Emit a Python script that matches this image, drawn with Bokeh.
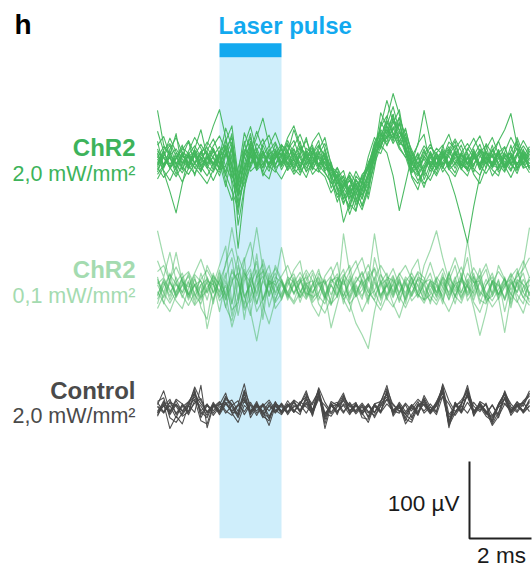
from bokeh.plotting import figure
from bokeh.models import Range1d, Label
from bokeh.embed import file_html
from bokeh.resources import INLINE

# Sweeps sampled every 0.2 ms from -2 ms (laser onset at 0 ms), values in µV
T_START = -2.0
DT = 0.2
PULSE_START, PULSE_END = 0.0, 2.0

chr2_high = [
    [8, -5, 12, -10, 6, -3, 10, -8, 4, -6, 12, 20, -30, -114, -40, 15, -6, 10, -4, 8, -2, 12, -6, 9, -10, 5, -8, 3, -15, -28, -35, -22, -40, -18, -10, 20, 35, 28, 42, 25, 15, -5, -12, 6, -8, 4, -10, 12, -4, 8, -6, 10, -12, 5, -3, 14, -8, 6, -5, 10, 2],
    [65, 20, 5, -12, 8, -6, 14, 2, -10, 6, 18, -8, -25, -55, 10, 30, -5, 12, -10, 4, 10, -6, 15, -4, 8, -12, 6, -5, -20, -35, -80, -55, -30, -45, -20, 5, 25, 40, 30, 48, 20, -10, -20, -5, 10, -6, 8, -4, 12, -10, 4, -8, 15, -5, 8, -12, 6, 10, -4, 5, -8],
    [10, -15, -40, -68, -30, 5, 12, -4, 20, 45, 66, 30, -10, -45, 5, 20, -8, 8, -5, 12, -6, 20, 5, -10, 12, 2, -6, 10, -10, -25, -45, -60, -35, -50, -25, 10, 45, 78, 50, 35, 30, 0, -15, -8, 5, -12, 6, -8, 10, -4, -12, 5, -6, 10, -4, 8, -10, 6, -6, 12, 4],
    [-8, 10, -5, 6, -12, 8, -3, 12, -6, 5, -10, 25, 45, -20, -10, 8, 30, 55, 20, -5, 6, 30, 45, 20, 5, -8, 12, -4, -12, -30, -20, -45, -25, -40, -15, 15, 30, 55, 87, 60, 25, 10, -10, 5, -6, 10, -5, 6, -10, 8, -5, 12, -6, 4, -8, 10, 18, -5, 8, -10, -6],
    [-12, 5, -8, 10, -4, 6, -10, 4, -6, 12, -5, 10, -20, -40, -15, 6, -8, 12, -6, 5, 15, -5, 10, -10, 6, -12, 5, -15, -30, -20, -50, -35, -55, -30, -10, 5, 20, 10, -20, -65, -30, 5, -15, -35, -10, 5, -8, -20, -45, -75, -107, -60, -20, 5, -8, 10, -6, 5, -10, 8, -4],
    [5, -8, 15, 30, 10, -6, 8, -12, 6, -4, 10, -15, 20, -35, 25, -10, 12, -6, 8, 15, -8, 10, 40, 15, -5, 8, 20, 5, -8, -15, -40, -25, -45, -20, -5, 20, 40, 30, 55, 40, 15, 5, 20, 65, 25, -5, 10, -8, 6, 20, -5, 8, -12, 10, 4, 25, 40, 61, 20, -5, 8],
    [-5, 12, -10, 4, 20, -8, 6, -15, 10, -6, 5, 15, -10, -30, 12, -4, 6, -10, 15, -5, 8, -12, 4, 25, -6, 10, -8, 15, -25, -10, -35, -50, -20, -30, 5, 30, 15, 45, 25, 50, 10, -15, 5, -20, 12, -5, 15, -10, 4, -6, 10, -15, 6, -4, 20, -8, 5, -12, 10, -6, 12],
    [15, -6, 4, -18, 5, 25, -5, 10, -4, 15, -12, 8, 35, -60, -25, 10, -12, 5, -6, 22, -4, 6, -15, 8, 30, -5, 10, -10, -5, -40, -25, -40, -65, -35, -20, 0, 35, 20, 35, 15, 5, -20, -30, -10, 8, -12, 5, 15, -6, 10, -12, 4, 8, -10, 15, -5, -15, 8, -6, 15, -10],
    [-15, 6, 20, -5, 10, -10, 15, 40, 5, -12, 8, -20, 15, -45, -5, 25, 5, -15, 10, -8, 20, 12, -10, 6, -15, 15, -5, 8, -20, -15, -30, -20, -35, -45, -30, 10, 20, 50, 35, 30, 40, 10, -5, 15, -10, 8, -6, 10, 25, -5, -12, 15, -8, 12, -6, -10, 10, -6, 30, 8, -12],
    [25, -10, 8, 35, -12, 10, -20, 6, 12, -8, -15, 10, -5, -25, 8, 35, -10, 20, 2, 10, -12, 4, 15, -8, 10, 20, -12, 3, -10, -20, -55, -40, -30, -60, -35, -5, 50, 35, 60, 20, 35, -5, 10, -25, -5, 10, 20, -5, 12, -12, 6, -5, 10, 20, -10, 5, -8, 20, -10, 6, 10],
    [-3, 14, 22, 6, -9, -18, -4, 11, 17, 3, -12, -7, 18, -38, -22, 4, 16, -2, -14, 9, 21, 7, -11, -19, 2, 13, -6, -16, -28, -44, -31, -19, -52, -27, -8, 24, 38, 19, 44, 31, 9, -16, -7, 12, -3, -17, 6, 18, 1, -11, -20, 3, 14, 7, -9, 2, 17, -5, -13, 8, 0],
    [12, 3, -9, -21, -6, 8, 19, 4, -7, -15, 2, 28, -5, -70, -12, 18, 3, -9, 12, 24, 5, -13, -2, 16, 9, -4, 18, 6, -36, -18, -42, -63, -24, -38, -2, 12, 29, 52, 36, 22, 18, -8, -26, -14, 3, 16, 7, -12, -4, 10, 22, 8, -6, -17, -3, 11, -2, -14, 6, 19, 7],
    [-18, -6, 7, 15, 2, -11, -3, 9, 24, 13, -4, 16, 30, -26, 6, -14, -6, 21, 33, 8, -7, 3, 19, 34, 12, -9, -15, -1, -21, -9, -26, -48, -40, -58, -32, -4, 18, 36, 60, 24, 42, 6, -14, -30, -19, 4, 12, -6, 15, 27, 9, -11, -19, 0, 13, 4, -9, 2, 16, 2, -7],
    [4, 18, 9, -5, -16, -2, 13, -8, -20, -4, 9, -28, -52, -22, 14, 9, -13, -3, 7, -10, -2, 14, 26, 3, -14, -5, 8, 22, -4, -34, -57, -36, -14, -30, -44, 8, 62, 44, 28, 56, 33, 14, -4, 8, 21, 4, -15, -3, 9, -6, 14, 29, 11, -4, 6, -15, -4, 12, 26, -3, -16],
    [-9, -22, -11, 3, 14, 26, 8, -6, 3, 19, 32, 12, -16, -46, -30, -4, 22, 10, -5, 2, 18, -3, -18, -7, 5, 17, 2, -10, -17, -48, -39, -70, -45, -22, -12, 14, 9, 32, 48, 66, 20, -22, -38, -10, -1, -9, 3, 24, 16, -5, -9, 6, 21, -3, -12, -20, 5, 9, -11, -2, 15],
    [2, -13, -26, -8, 11, 4, -9, -19, -30, -12, 5, 42, 18, -33, -8, 11, 38, 14, -7, -15, 3, 26, 9, -8, -22, 0, 14, 30, -6, -24, -36, -15, -29, -50, -20, 16, 44, 58, 34, 18, 4, 11, -8, 2, -14, -4, 10, -11, -21, -2, 16, 4, -8, 22, 8, -3, 11, 30, 14, -9, 3],
    [20, 31, 6, -4, 9, -7, -17, 2, 13, 28, 8, -18, -40, -62, -18, 22, 6, -16, -24, 4, 14, 2, -9, 11, 26, 6, -13, -21, -42, -28, -50, -32, -58, -40, -16, 2, 27, 40, 22, 36, 26, -2, -18, 4, 17, 9, -10, 7, 20, 3, -14, -6, 12, 3, -20, -8, 8, -3, -17, 5, 18],
    [-24, -8, 4, -12, -28, -10, 7, 21, 6, -2, -20, 6, 24, -18, 36, 14, -10, 6, 19, 36, 14, -9, 2, -16, -3, 24, 36, 15, -11, -22, -13, -42, -33, -22, -50, -10, 34, 24, 52, 40, 12, -12, 3, 19, 8, -6, 18, 34, 9, -7, 3, -18, -30, -9, 12, 25, 3, -6, 9, 26, 11],
    [38, 12, -10, 2, 17, 9, -4, -14, 1, 16, -2, -34, 8, -84, -36, -6, 13, 28, 4, -12, -24, -8, 6, 18, 2, -18, -8, 5, -24, -54, -32, -26, -48, -64, -38, 22, 16, 46, 70, 38, 28, -6, 8, -14, -26, -8, 6, -4, -16, 6, 2, 18, 32, 10, -6, 14, -7, -22, -4, 4, -10],
    [-6, 7, 29, 11, -3, 12, 30, 16, -9, -26, -8, 18, -22, -10, 20, 44, 12, -20, -4, 13, 7, 22, 0, -13, 16, 9, 26, -14, -2, -30, -20, -56, -66, -28, -6, 6, 22, 30, 40, 56, 10, -4, 22, 34, -8, -20, -2, 14, 28, 12, -3, 10, -4, 15, 30, 8, -13, 1, 22, 5, -4],
]

chr2_low = [
    [75, 40, 10, -8, 12, -15, 6, -10, 15, -5, 10, 30, 79, 35, -10, 5, -20, 10, -6, 15, 8, -12, 6, -10, 20, -5, 8, -15, 5, -10, 71, 20, -8, 12, -5, 15, -10, 5, -12, 8, -6, 15, -10, 5, 20, -8, 12, -15, 6, 10, -5, 15, -10, 5, 20, -8, 6, 12, -5, 30, 79],
    [36, 15, 47, 10, -12, 8, -20, 5, -52, -15, 10, -8, -50, -20, 15, 30, 79, 25, -10, 8, 53, 15, -8, 10, -12, 6, 15, -6, -51, -20, 10, -12, 8, 20, -5, -15, 10, -8, 15, -5, 12, -10, 6, -15, 10, 5, -10, 20, -10, 8, 62, 10, -15, -20, 8, -12, -57, -10, 12, 5, -8],
    [-10, 12, -5, 8, 20, -8, 5, -15, 10, 5, 30, 55, -20, 15, 40, -30, -68, -25, 10, -5, 12, -8, 15, -5, 8, -15, 6, 10, -8, 12, -10, 8, 25, 40, 10, 71, 20, -10, 5, -15, 8, -6, 12, -10, 8, -5, 15, -8, 10, -15, 6, 20, -8, 12, -6, 10, -15, 8, -5, 12, -6],
    [5, -12, 8, -5, 15, -10, 12, -6, 8, -15, 20, -10, 15, -35, 10, 25, -20, 12, 30, -8, 10, -15, 5, 12, -8, 20, -10, -20, 5, -12, 15, -20, -45, -60, -78, -30, 5, 12, -8, 10, -15, 5, 20, -6, 10, -12, 8, -5, 15, -10, 5, -25, -61, -30, 10, -8, 12, -15, 6, 20, -10],
    [-8, 10, -15, 6, -5, 20, -10, 5, 12, -20, 15, -25, 10, 20, -40, 12, 35, -15, 10, 5, -12, 8, -6, 15, -10, 5, 25, -8, 10, 15, -20, 12, -10, 5, 15, -10, 8, 20, -6, 12, -10, 15, -5, 30, 50, 75, 40, 10, -12, 15, -8, 10, -20, 5, 15, -10, 8, -25, 10, -5, 15],
    [12, -5, 20, -12, 5, -8, 15, -25, -40, 5, -10, 15, 40, -15, 25, -10, 45, -15, 5, 20, -10, 15, 8, -12, 6, 10, -15, 8, -20, 10, 25, -10, 15, 5, -20, 40, 10, -15, 12, -8, 15, 5, -12, 8, 12, -5, 20, -10, 5, -6, 20, 8, 10, -15, -10, 12, -30, 5, 15, 25, 40],
    [-20, 8, -10, 15, -6, 10, -15, 20, -5, 8, -30, 10, -20, 30, -10, -35, 15, -40, 20, -15, 8, -5, 12, -18, 5, -6, 10, -12, 15, -8, 12, -15, 5, -10, 10, 25, -15, 8, -10, 15, -20, 10, -8, -15, 5, -10, 15, 5, -20, 12, 40, -10, 8, -12, 10, -8, 15, -20, 8, -12, 5],
    [15, -20, 10, 47, 8, -12, 5, 10, -15, 15, 5, -15, 25, 10, -25, 20, -10, 25, 5, 10, -15, 12, -6, 8, 15, -12, -5, 12, -20, -10, 15, 30, -5, 10, -15, 8, -12, 15, 10, -18, 6, -10, 15, 10, -20, 12, -15, 10, 30, -5, 12, -15, 10, 25, -10, 6, -15, 10, -8, -20, 12],
    [-14, 3, 18, 6, -9, -22, -5, 12, 24, 8, -16, -4, 22, 9, -28, -12, 16, 32, 4, -18, -6, 10, 19, -3, -14, 2, 13, -9, -22, 4, 18, 7, -11, -2, 14, 27, 6, -13, -24, -6, 9, 20, 3, -15, -8, 12, 26, 5, -10, -19, 3, 16, -4, -13, 8, 22, 10, -7, -18, 2, 11],
    [9, -6, -19, -4, 14, 22, 3, -12, -2, 17, 6, -24, -42, -10, 20, 8, -30, -14, 12, 26, 9, -8, -20, -5, 11, 24, 5, -12, 7, 19, -4, -20, -9, 15, 31, 10, -8, 3, 17, -10, -25, -6, 13, 4, -11, -21, -3, 14, 2, -12, 9, 27, 12, -6, -16, -1, 13, -2, 18, 36, 14],
    [22, 30, 8, -10, 4, 16, -8, -20, 2, 11, -6, 34, 52, 18, -12, 6, 24, -22, -46, -15, 5, -10, 8, 21, 4, -18, -7, 16, 28, 2, -14, -4, 9, 22, 0, -16, -28, -9, 6, 18, 30, 12, -7, -19, -2, 15, 3, -14, 12, 28, 6, -18, -31, -8, 10, 4, -12, 15, 26, -6, -14],
    [-4, -18, -30, -9, 8, 2, 20, 38, 14, -6, 24, -14, 6, 42, 20, -18, 4, 16, -10, 30, 12, -6, -17, 9, 24, 10, -20, -32, -12, 14, 5, 22, 36, 8, -10, -3, 18, 4, -20, -38, -12, 6, 22, 14, -4, -16, 2, 18, 40, 16, -10, 4, 17, -9, -24, -12, 3, 20, 4, -12, -22],
    [6, 14, -2, -16, -26, 0, 18, 9, -6, 20, -12, 4, -28, -18, 36, 60, 14, 22, -24, 4, 16, 30, 8, -12, 2, -22, -36, -10, 12, 3, -10, 16, -6, -30, -12, 12, 30, 16, -4, 20, 6, -16, -6, 10, 34, 8, -14, -30, -10, 14, 2, -6, 16, 32, 6, -14, 2, 18, -16, -32, -4],
    [-26, -8, 12, 28, 10, -6, -22, -10, 30, 12, -4, 20, -36, 8, -20, 14, -6, 38, 10, -26, -14, 4, 24, 36, -6, -10, 20, 6, 16, 34, -14, -30, 2, -14, 22, -4, -22, 10, 26, 4, -14, 24, 38, -6, -16, 4, -20, 22, -4, 20, -16, -2, 26, -18, -6, 30, 12, -8, 22, 4, -18],
]

control = [
    [5, 23, -4, 6, -8, 3, 28, 10, -5, 4, -6, 8, -3, 5, 32, -4, 6, -8, 3, -5, 7, -4, 2, 6, 23, -3, 27, 8, -5, 6, 20, -4, 7, -6, 3, -5, 8, 30, -2, 5, -8, 4, -6, 17, 2, -5, 32, 10, -4, 6, 30, -3, 5, -6, 4, -8, 23, 2, -5, 6, 23],
    [-3, 6, -26, -10, -20, 4, -5, 30, -25, 3, 5, 20, -6, -18, 4, -3, 6, -4, -22, 3, -5, 6, -3, 5, -6, 8, 22, -26, 4, -5, 6, -3, 5, -6, -18, 4, -5, 6, -3, 4, -20, -8, 5, -3, 6, -4, 25, -25, 5, -6, 8, -4, 5, -3, -22, -10, 6, -4, 3, -5, 4],
    [8, -5, 4, -12, 6, -4, 22, -8, 5, -3, 8, -6, 4, 10, -8, 5, -3, 6, -10, 4, -6, 3, 8, -5, 12, -4, 25, -15, 6, -3, 4, -8, 5, -3, 6, -6, 10, 18, -5, 3, -12, 5, -4, 6, -3, 8, 28, -20, 6, -4, 18, -6, 3, -5, -15, 6, 18, -4, 5, -3, 8],
    [-6, 10, -8, 5, -3, 8, 15, -4, -12, 6, -4, 12, 5, -8, 20, -6, 4, -12, 5, -3, 6, -8, 4, -3, 8, -5, 15, -6, 3, 5, -6, 8, -4, 5, -12, 6, -3, 12, -6, 4, -8, -15, 6, 5, -4, 6, 20, -12, 4, 8, 15, -5, 6, -8, 5, -12, 15, -6, 4, 8, -4],
    [3, -4, 8, -6, 4, -5, 18, 6, -4, 5, -8, 6, -4, 3, 12, -5, 6, -4, 8, -6, 4, -5, 10, -4, 6, -8, 20, -10, 5, 8, -4, 6, -5, 4, -6, 5, -4, 22, -6, 8, -4, 5, -8, 10, -4, 6, 15, -18, 8, -5, 20, -4, 5, -6, -10, 4, 12, -5, 6, -4, 12],
    [-8, 4, -6, 10, -4, 6, 25, -12, 4, -6, 5, 8, -5, -6, 15, -8, 4, -6, -12, 5, -3, 6, -5, 8, 15, -4, 18, -8, 4, -6, 12, -3, 5, -8, 4, -5, 6, 15, -3, -6, 5, -12, 4, 8, -5, 4, 22, -15, -5, 6, 25, -6, 8, -4, -12, 6, 20, -6, 5, -3, 10],
    [2, -6, 9, 3, -10, -4, 7, 13, -6, 2, 9, -3, -9, 5, -4, 8, -6, 3, 11, -2, -8, 4, -5, 9, 2, -6, 12, 4, -7, 3, 10, -5, -2, 7, -4, -9, 3, 12, 6, -4, 7, -3, 9, -6, 2, -8, 16, 6, -9, 3, -6, 8, -2, 5, -9, 2, 7, -3, 9, -6, 3],
    [-5, 3, 12, -8, 2, 9, 20, -3, 6, -9, 2, 6, 11, -4, 24, 4, -9, 6, -3, 8, -4, 10, -2, -8, 17, 5, 24, -6, -10, 2, 14, 4, -7, 2, -10, 6, 9, 26, 4, -3, -6, 2, 12, 4, -7, 3, 30, -8, 2, 11, 22, 3, -4, 7, -18, 3, 20, 6, -3, 10, 18],
    [9, 14, -12, -18, -6, 4, 12, -16, -20, 5, -3, 16, 2, -12, 10, -4, 9, -10, -16, 6, 2, -6, 8, -2, 13, -10, 19, -20, 7, -8, 16, 2, 8, -12, -14, 3, -6, 24, -10, 2, -14, -18, 2, 12, -6, 9, 24, -22, -6, 4, 26, -10, 9, 4, -20, -5, 14, -9, 2, 8, 16],
    [-10, 8, -4, 12, 6, -8, 10, 3, -9, 8, -5, 14, 6, -10, 22, -12, 2, 4, -14, 9, -6, 2, 11, 5, 20, -2, 16, -12, 9, 4, 17, -6, 3, -4, 6, -12, 4, 20, -8, 6, -16, 2, -9, 14, -2, 4, 26, -20, 8, -2, 20, -9, 2, -10, -16, 4, 21, -2, 8, 3, 20],
]

group_labels = [("ChR2", "2,0 mW/mm²"), ("ChR2", "0,1 mW/mm²"), ("Control", "2,0 mW/mm²")]
scale_bar_uv = 100
scale_bar_ms = 2

# layout: 31 px per ms, 0.77 px per µV
PX_PER_MS = 31.0
UV_PER_PX = 100 / 77.0
W, H = 532, 567
X0_PX, Y0_PX = 219, 160  # canvas position of t = 0 ms, 0 µV
TEXT_SHIFT = 9           # labels render slightly below their anchor

GREEN = "#42b65c"
GRAY = "#474747"
BLUE = "#12a9ef"
FONT = "Liberation Sans"


def tx(px):
    return (px - X0_PX) / PX_PER_MS


def uy(py):
    return (Y0_PX - py) * UV_PER_PX


p = figure(width=W, height=H, output_backend="svg", toolbar_location=None,
           x_range=Range1d(tx(0), tx(W)), y_range=Range1d(uy(H), uy(0)),
           x_axis_type=None, y_axis_type=None, min_border=0,
           outline_line_color=None, background_fill_color="white",
           border_fill_color="white")
p.grid.visible = False

# laser pulse window and bar
p.quad(left=PULSE_START, right=PULSE_END, bottom=uy(537.7), top=uy(56.7),
       fill_color="#cfeefb", line_color=None)
p.quad(left=PULSE_START, right=PULSE_END, bottom=uy(56.7), top=uy(42.7),
       fill_color=BLUE, line_color=None)

groups = [
    (chr2_high, 0.0, GREEN, 0.95, 1.1),
    (chr2_low, uy(288), GREEN, 0.5, 1.2),
    (control, uy(408), GRAY, 0.95, 1.1),
]
for traces, offset, color, alpha, lw in groups:
    for tr in traces:
        t = [T_START + DT * i for i in range(len(tr))]
        y = [v + offset for v in tr]
        p.line(t, y, line_color=color, line_alpha=alpha, line_width=lw,
               line_join="round")

# scale bar
sb_x = tx(469)
sb_y = uy(538)
p.line([sb_x, sb_x, sb_x + scale_bar_ms], [sb_y + scale_bar_uv, sb_y, sb_y],
       line_color="#222222", line_width=2)


def label(px, py, text, size, color, bold=False, align="left"):
    p.add_layout(Label(x=tx(px), y=uy(py - TEXT_SHIFT), text=text, text_font=FONT,
                       text_font_size=f"{size}px", text_color=color,
                       text_font_style="bold" if bold else "normal",
                       text_align=align, text_baseline="alphabetic"))


label(14, 33, "h", 28, "#000000", bold=True)
label(218, 34, "Laser pulse", 24, BLUE, bold=True)

label_colors = ["#3db35a", "#a4dbb0", "#4a4a4a"]
baselines = [(156, 182), (278, 304), (399, 424)]
for (title, sub), col, (b1, b2) in zip(group_labels, label_colors, baselines):
    label(135, b1, title, 24, col, bold=True, align="right")
    label(135, b2, sub, 21.5, col, align="right")

label(459, 512, f"{scale_bar_uv} µV", 22.5, "#1a1a1a", align="right")
label(501, 564, f"{scale_bar_ms} ms", 22.5, "#1a1a1a", align="center")

open("out.html", "w").write(file_html(p, INLINE))
